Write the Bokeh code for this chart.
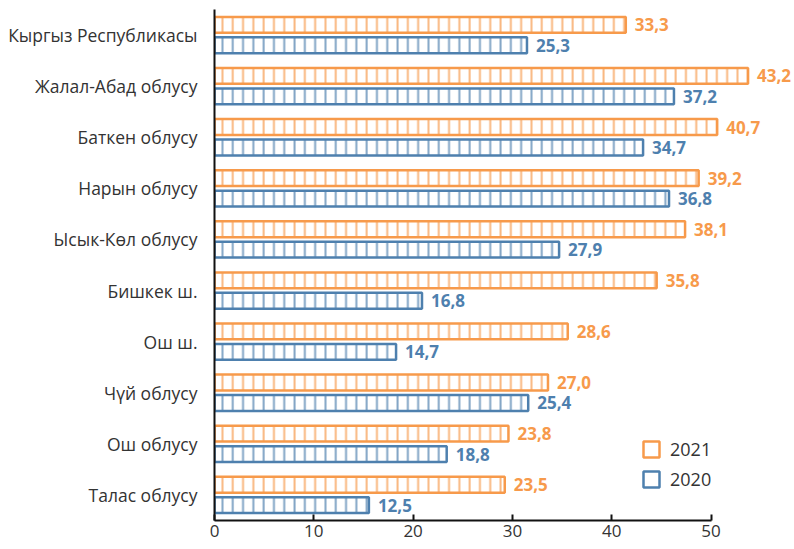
from bokeh.plotting import figure
from bokeh.models import FactorRange, Range1d, ColumnDataSource, FixedTicker, Legend, LegendItem
from bokeh.transform import dodge
from bokeh.embed import file_html
from bokeh.resources import INLINE
from bokeh.core.properties import value

# ---- data ----
regions = ["Кыргыз Республикасы", "Жалал-Абад облусу", "Баткен облусу", "Нарын облусу",
           "Ысык-Көл облусу", "Бишкек ш.", "Ош ш.", "Чүй облусу", "Ош облусу", "Талас облусу"]
values_2021 = [33.3, 43.2, 40.7, 39.2, 38.1, 35.8, 28.6, 27.0, 23.8, 23.5]
values_2020 = [25.3, 37.2, 34.7, 36.8, 27.9, 16.8, 14.7, 25.4, 18.8, 12.5]
series_labels = ["2021", "2020"]
tick_labels = [0, 10, 20, 30, 40, 50]
# the original chart's axis is drawn at a different scale than its bars:
# one labelled axis unit corresponds to this many data units
axis_unit = 0.804

ORANGE = "#F79A4B"
BLUE = "#4E80AE"
TEXT = "#333333"
FONT = "Open Sans"


def fmt(v):
    return f"{v:.1f}".replace(".", ",")


src = ColumnDataSource(dict(
    region=regions,
    v21=values_2021,
    v20=values_2020,
    l21=[fmt(v) for v in values_2021],
    l20=[fmt(v) for v in values_2020],
))

p = figure(width=794, height=549,
           y_range=FactorRange(factors=list(reversed(regions)), range_padding=0),
           x_range=Range1d(0, 46.96),
           output_backend="svg", toolbar_location=None,
           min_border_left=214, min_border_right=0, min_border_top=9, min_border_bottom=29)

OFF = 0.2
H = 0.31

legend_renderers = []
for col, lab, color, off in [("v21", "l21", ORANGE, OFF), ("v20", "l20", BLUE, -OFF)]:
    yv = dodge("region", off, range=p.y_range)
    r = p.hbar(y=yv, left=0, right=col, height=H, source=src,
               fill_color="white", line_color=color, line_width=2.5)
    p.hbar(y=yv, left=0, right=col, height=H, source=src,
           fill_alpha=0, line_alpha=0,
           hatch_pattern="|", hatch_color=color, hatch_scale=10.3,
           hatch_weight=2, hatch_alpha=0.7)
    p.text(x=col, y=yv, text=lab, source=src, x_offset=9,
           text_baseline="middle", text_align="left",
           text_font=value(FONT), text_font_style="bold",
           text_font_size="17px", text_color=color)
    legend_renderers.append(r)

legend = Legend(items=[LegendItem(label=series_labels[0], renderers=[legend_renderers[0]]),
                       LegendItem(label=series_labels[1], renderers=[legend_renderers[1]])],
                location=(427, 29), padding=0, margin=0, spacing=6,
                glyph_width=20, glyph_height=20, label_height=20, label_standoff=9,
                label_text_font=FONT, label_text_font_size="18px", label_text_color=TEXT,
                border_line_alpha=0, background_fill_alpha=0)
p.add_layout(legend)

# x axis
xa = p.xaxis[0]
ticks = [round(t * axis_unit, 4) for t in tick_labels]
xa.ticker = FixedTicker(ticks=ticks)
xa.major_label_overrides = {tk: str(t) for tk, t in zip(ticks, tick_labels)}
xa.bounds = (0, ticks[-1])
xa.axis_line_width = 2
xa.axis_line_color = "#111111"
xa.major_tick_in = 6
xa.major_tick_out = 0
xa.major_tick_line_width = 2
xa.major_tick_line_color = "#111111"
xa.minor_tick_line_color = None
xa.major_label_standoff = 4
xa.major_label_text_font = FONT
xa.major_label_text_font_size = "17px"
xa.major_label_text_color = TEXT

# y axis
ya = p.yaxis[0]
ya.axis_line_width = 2
ya.axis_line_color = "#111111"
ya.major_tick_in = 0
ya.major_tick_out = 0
ya.minor_tick_line_color = None
ya.major_label_standoff = 17
ya.major_label_text_font = FONT
ya.major_label_text_font_size = "17.5px"
ya.major_label_text_color = TEXT

p.xgrid.visible = False
p.ygrid.visible = False
p.outline_line_color = None

open("out.html", "w").write(file_html(p, INLINE))
